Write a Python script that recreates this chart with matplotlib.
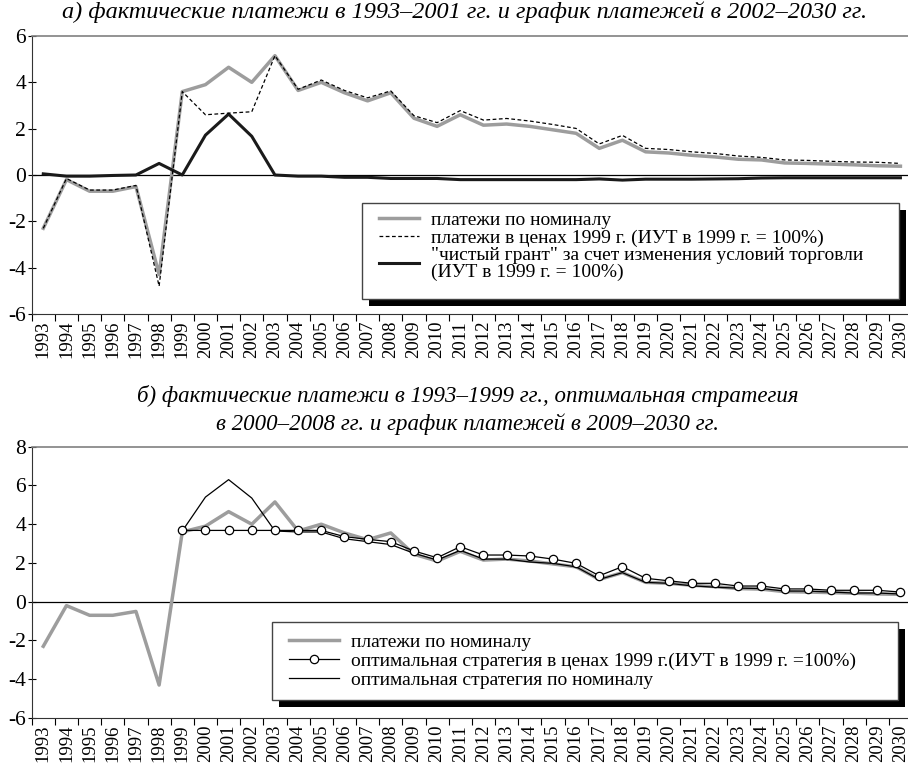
import numpy as np
import matplotlib
matplotlib.use("Agg")
import matplotlib.pyplot as plt
from matplotlib.patches import Rectangle

plt.rcParams['font.family'] = ['Liberation Serif', 'DejaVu Serif']

years = list(range(1993, 2031))
year_labels = [str(y) for y in years]

nominal = [-2.3, -0.2, -0.7, -0.7, -0.5, -4.3, 3.6, 3.9, 4.65, 4.0, 5.15,
           3.65, 4.0, 3.55, 3.2, 3.55, 2.45, 2.1, 2.6, 2.15, 2.2,
           2.1, 1.95, 1.8, 1.15, 1.5, 1.0, 0.95, 0.85, 0.78, 0.68,
           0.65, 0.52, 0.5, 0.47, 0.44, 0.4, 0.38]
real_1999 = [-2.3, -0.15, -0.65, -0.65, -0.45, -4.8, 3.6, 2.6, 2.67, 2.73, 5.15,
             3.7, 4.1, 3.65, 3.33, 3.63, 2.56, 2.26, 2.78, 2.37, 2.44,
             2.33, 2.18, 2.01, 1.34, 1.71, 1.15, 1.1, 1.0, 0.93, 0.82,
             0.76, 0.65, 0.63, 0.59, 0.56, 0.55, 0.5]
net_grant = [0.05, -0.05, -0.05, -0.02, 0.0, 0.5, 0.0, 1.72, 2.63, 1.67, 0.0,
             -0.05, -0.05, -0.1, -0.1, -0.15, -0.15, -0.15, -0.2, -0.2, -0.2,
             -0.2, -0.2, -0.2, -0.17, -0.22, -0.18, -0.18, -0.18, -0.17, -0.16,
             -0.13, -0.12, -0.12, -0.12, -0.12, -0.12, -0.12]
opt_real = [None] * 6 + [3.68, 3.68, 3.68, 3.68, 3.68, 3.68, 3.68, 3.36, 3.22, 3.1,
                         2.62, 2.27, 2.84, 2.41, 2.41, 2.36, 2.2, 1.98, 1.34, 1.81,
                         1.21, 1.08, 0.95, 0.95, 0.81, 0.81, 0.66, 0.66, 0.59, 0.59,
                         0.59, 0.5]
opt_nominal = [None] * 6 + [3.65, 5.4, 6.3, 5.35, 3.65, 3.6, 3.6, 3.25, 3.1, 2.95,
                            2.5, 2.15, 2.65, 2.2, 2.2, 2.05, 1.98, 1.8, 1.15, 1.5,
                            1.0, 0.95, 0.82, 0.75, 0.7, 0.68, 0.55, 0.55, 0.5, 0.45,
                            0.45, 0.4]

title_a = "а) фактические платежи в 1993–2001 гг. и график платежей в 2002–2030 гг."
title_b1 = "б) фактические платежи в 1993–1999 гг., оптимальная стратегия"
title_b2 = "в 2000–2008 гг. и график платежей в 2009–2030 гг."
leg_a = ["платежи по номиналу",
         "платежи в ценах 1999 г. (ИУТ в 1999 г. = 100%)",
         "\"чистый грант\" за счет изменения условий торговли\n(ИУТ в 1999 г. = 100%)"]
leg_b = ["платежи по номиналу",
         "оптимальная стратегия в ценах 1999 г.(ИУТ в 1999 г. =100%)",
         "оптимальная стратегия по номиналу"]

W, H = 908, 769
fig = plt.figure(figsize=(W / 100, H / 100), dpi=100)


def fx(px):
    return px / W


def fy(py):
    return 1 - py / H


x = np.arange(len(years))


def arr(v):
    return np.array([np.nan if a is None else a for a in v], dtype=float)


def style_axes(ax, ymin, ymax):
    ax.set_xlim(-0.5, len(years) - 0.5)
    ax.set_ylim(ymin, ymax)
    ticks = np.arange(ymin, ymax + 1, 2)
    ax.set_yticks(ticks)
    ax.set_yticklabels([str(int(v)) for v in ticks])
    ax.set_xticks(x)
    ax.set_xticklabels(year_labels, rotation=90)
    ax.set_xticks(np.arange(-0.5, len(years), 1), minor=True)
    ax.tick_params(axis='x', which='major', length=0, pad=5, labelsize=13.5)
    ax.tick_params(axis='x', which='minor', length=5, direction='out', width=0.8)
    ax.tick_params(axis='y', length=6, direction='inout', width=0.8, labelsize=15.5, pad=1)
    ax.spines['right'].set_visible(False)
    ax.spines['top'].set_color('#808080')
    ax.spines['top'].set_linewidth(1.2)
    ax.spines['left'].set_color('#333333')
    ax.spines['bottom'].set_color('#333333')
    ax.axhline(0, color='black', lw=0.9, zorder=1.5)


def legend_box(ax, handles, labels, box, text_top_px, handle_len, fs, lsp):
    x0, y0, x1, y1 = box
    sh = 7
    ax.add_patch(Rectangle((fx(x0 + sh), fy(y1 + sh)), fx(x1 - x0), (y1 - y0) / H,
                           transform=fig.transFigure, facecolor='black', edgecolor='none',
                           zorder=4.5, clip_on=False))
    ax.add_patch(Rectangle((fx(x0), fy(y1)), fx(x1 - x0), (y1 - y0) / H,
                           transform=fig.transFigure, facecolor='white', edgecolor='#444444',
                           lw=1.0, zorder=4.6, clip_on=False))
    leg = ax.legend(handles, labels, loc='upper left',
                    bbox_to_anchor=(fx(x0 + 3), fy(text_top_px)),
                    bbox_transform=fig.transFigure, frameon=False,
                    fontsize=fs, handlelength=handle_len, handletextpad=0.6,
                    labelspacing=lsp, borderpad=0.2)
    for t in leg.get_texts():
        t.set_linespacing(0.95)
    leg.set_zorder(5)
    return leg


# ---------- panel a ----------
ax1 = fig.add_axes([fx(31.7), fy(314), fx(912 - 31.7), (314 - 36) / H])
style_axes(ax1, -6, 6)
l1, = ax1.plot(x, arr(nominal), color='#9d9d9d', lw=2.5, zorder=2)
l2, = ax1.plot(x, arr(real_1999), color='black', lw=0.9, ls=(0, (3, 2)), zorder=2.2)
l3, = ax1.plot(x, arr(net_grant), color='#1a1a1a', lw=2.2, zorder=2.1)
legend_box(ax1, [l1, l2, l3], leg_a, (362, 203, 899, 299), 198, 2.1, 14, 0.0)

fig.text(fx(465), fy(12), title_a, ha='center', va='center', fontsize=17.5, style='italic')

# ---------- panel b ----------
ax2 = fig.add_axes([fx(31.7), fy(718), fx(912 - 31.7), (718 - 446.7) / H])
style_axes(ax2, -6, 8)
m1, = ax2.plot(x, arr(nominal), color='#9d9d9d', lw=2.5, zorder=2)
m3, = ax2.plot(x, arr(opt_nominal), color='black', lw=0.9, zorder=2.1)
m2, = ax2.plot(x, arr(opt_real), color='black', lw=0.9, marker='o', ms=6,
               mfc='white', mec='black', mew=0.9, zorder=2.2)
legend_box(ax2, [m1, m2, m3], leg_b, (272, 622, 898, 700), 620, 2.6, 14, 0.07)

fig.text(fx(468), fy(396), title_b1, ha='center', va='center', fontsize=16.5, style='italic')
fig.text(fx(468), fy(424), title_b2, ha='center', va='center', fontsize=16.5, style='italic')

fig.savefig("out.png", dpi=100)
